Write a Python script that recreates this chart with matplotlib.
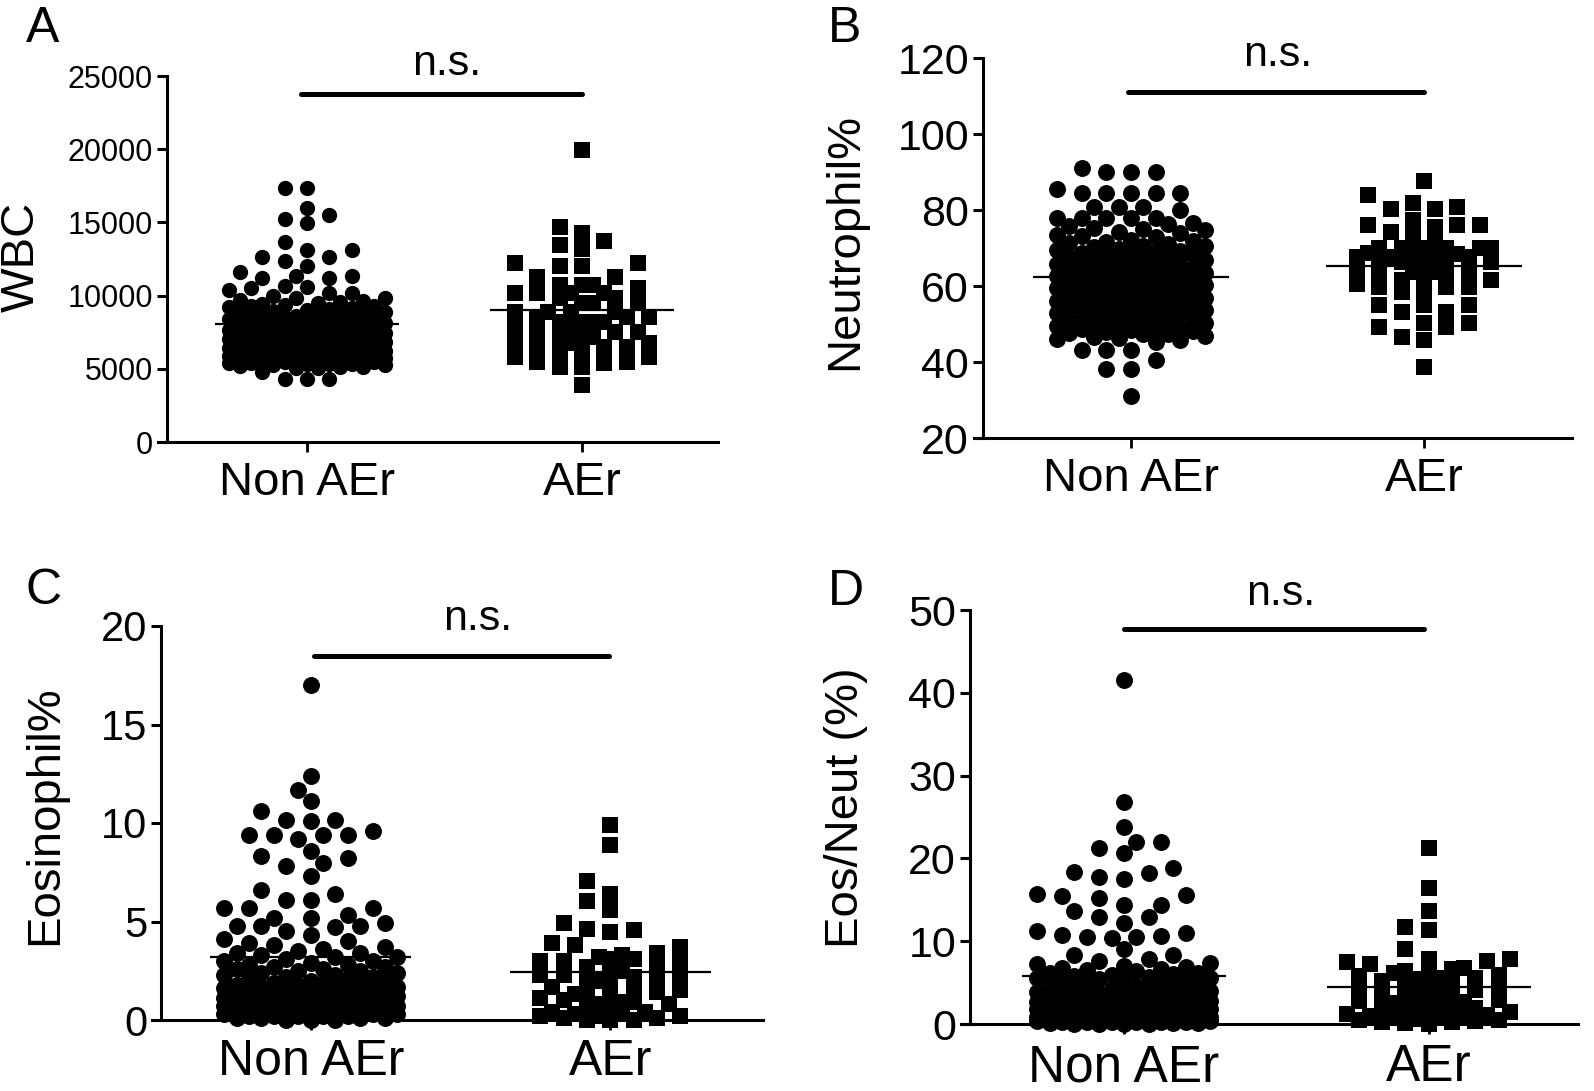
import numpy as np
import matplotlib.pyplot as plt

plt.rcParams['font.family'] = ['Liberation Sans', 'DejaVu Sans']

W, H, DPI = 1594, 1091, 100
groups = ['Non AEr', 'AEr']

# ---- A: WBC ----
wbc_non = [17330, 17330, 15960, 15500, 15210, 14940, 13680, 13110, 13110, 12610,
           12610, 12380, 12020, 11630, 11340, 11340, 11180, 11180, 10660, 10600,
           10500, 10380, 10160, 10160,
           5050, 5080, 5100, 5150, 5200, 5240, 5260, 5300, 5310, 5360, 5400, 5430, 5450, 5490,
           5520, 5550, 5590, 5620, 5640, 5680, 5720, 5760, 5780, 5810, 5850, 5890, 5930, 5960,
           6010, 6050, 6080, 6110, 6150, 6190, 6220, 6240, 6280, 6330, 6360, 6390, 6430, 6480,
           6520, 6560, 6590, 6640, 6690, 6720, 6760, 6800, 6840, 6890, 6940, 6970,
           7020, 7060, 7110, 7140, 7170, 7220, 7260, 7310, 7340, 7390, 7440, 7470,
           7510, 7560, 7610, 7640, 7680, 7710, 7760, 7800, 7850, 7880, 7930, 7980,
           8030, 8090, 8120, 8160, 8220, 8280, 8310, 8370, 8420, 8480,
           8530, 8590, 8630, 8690, 8750, 8800, 8840, 8910, 8960,
           9020, 9090, 9140, 9210, 9280, 9320, 9390, 9460,
           9510, 9590, 9650, 9720, 9810, 9870, 9950,
           4800, 4280, 4280, 4280]
wbc_aer = [19950, 14710, 14300, 13750, 13460, 13160, 12200, 12200, 12020, 12020,
           11290, 11290, 10720, 10720, 10720, 10500, 10160, 10160, 10160, 10160,
           9810, 9810, 9470, 9470, 9470, 8900, 8900, 8900, 8900, 8560, 8560, 8560,
           8220, 8220, 8220, 8220, 7880, 7880, 7530, 7530, 7530, 7190, 7190, 7190,
           6740, 6740, 6740, 6510, 6510, 6510, 6170, 6170, 5830, 5830, 5490, 5490,
           5380, 5100, 5100, 3890]

# ---- B: Neutrophil% ----
neut_non = [91.0, 90.1, 90.1, 90.1, 85.5, 84.4, 84.4, 84.4, 84.4, 84.4, 80.9, 80.9,
            80.9, 80.0, 77.8, 77.8, 77.8, 77.8, 77.8,
            45.2, 45.7, 46.0, 46.4, 46.7, 46.9, 47.3, 47.5, 47.6, 47.9,
            48.1, 48.4, 48.6, 48.8, 49.2, 49.5, 49.7, 49.9, 50.2, 50.4, 50.7, 50.9,
            51.1, 51.5, 51.9, 52.1, 52.3, 52.8, 53.0, 53.1, 53.5, 53.7, 53.9,
            54.2, 54.4, 54.5, 54.9, 55.3, 55.4, 55.8, 56.0, 56.1, 56.5, 56.8, 56.9,
            57.2, 57.3, 57.6, 58.0, 58.2, 58.3, 58.7, 59.1, 59.2, 59.4, 59.7, 59.9,
            60.2, 60.3, 60.6, 61.0, 61.1, 61.5, 61.7, 61.9, 62.3, 62.5, 62.6, 62.9,
            63.2, 63.3, 63.7, 63.9, 64.1, 64.5, 64.7, 64.9, 65.3, 65.4, 65.8, 65.9,
            66.1, 66.6, 66.8, 67.0, 67.5, 67.7, 67.9, 68.3, 68.4, 68.8, 68.9,
            69.3, 69.5, 69.7, 70.2, 70.4, 70.6, 71.1, 71.2, 71.7, 71.9,
            72.2, 72.8, 73.1, 73.4, 73.9, 74.2, 74.7, 74.9,
            75.2, 75.9, 76.3, 76.7,
            43.2, 43.2, 43.2, 40.5, 38.2, 38.2, 31.1]
neut_aer = [87.7, 83.9, 81.8, 80.7, 80.2, 80.2, 77.4, 76.1, 76.1, 76.1, 75.6, 74.3,
            74.3, 71.7, 70.3, 69.9, 69.9, 69.9, 69.9, 69.9, 69.9, 68.8, 68.5, 67.7,
            67.7, 67.7, 67.7, 67.7, 67.4, 66.4, 66.4, 66.4, 66.4, 63.8, 63.8, 63.8,
            63.8, 63.8, 63.4, 62.0, 61.6, 61.6, 60.4, 59.8, 59.8, 59.8, 58.9, 58.5,
            55.0, 55.0, 55.0, 53.2, 53.2, 50.2, 50.2, 49.3, 49.3, 46.7, 45.8, 38.8]

# ---- C: Eosinophil% ----
eos_non = [17.0, 12.4, 11.7, 11.1, 10.6, 10.15, 10.15, 10.1, 9.6, 9.4, 9.4, 9.4,
           9.4, 9.2, 8.6, 8.3, 8.2, 7.95, 7.8, 7.3, 6.6, 6.4, 6.1, 6.1, 5.67, 5.67,
           5.67, 5.33, 5.16, 5.16, 4.9, 4.77, 4.77, 4.77, 4.7,
           0.0, 0.0, 0.0, 0.1, 0.1, 0.1, 0.1, 0.2, 0.2, 0.2, 0.2, 0.2, 0.3, 0.3,
           0.3, 0.3, 0.3, 0.4, 0.4, 0.4, 0.4, 0.5, 0.5, 0.5, 0.5,
           0.6, 0.6, 0.6, 0.7, 0.7, 0.7, 0.7, 0.8, 0.8, 0.8, 0.8, 0.9, 0.9, 0.9,
           0.9, 1.0, 1.0, 1.0,
           1.1, 1.1, 1.1, 1.2, 1.2, 1.2, 1.3, 1.3, 1.3, 1.4, 1.4, 1.4, 1.5, 1.5, 1.5,
           1.6, 1.6, 1.6, 1.7, 1.7, 1.7, 1.8, 1.8, 1.8, 1.9, 1.9, 2.0, 2.0,
           2.1, 2.1, 2.2, 2.2, 2.3, 2.3, 2.4, 2.4, 2.5, 2.5,
           2.6, 2.6, 2.7, 2.7, 2.8, 2.8, 2.9, 3.0, 3.0,
           3.1, 3.2, 3.2, 3.3, 3.4, 3.4, 3.5,
           3.6, 3.7, 3.8, 3.9, 4.0, 4.1, 4.3, 4.5]
eos_aer = [9.9, 8.9, 7.05, 6.4, 6.05, 5.6, 4.9, 4.55, 4.6, 4.45,
           0.0, 0.0, 0.0, 0.1, 0.1, 0.2, 0.2, 0.2, 0.3, 0.3, 0.4, 0.4,
           0.6, 0.7, 0.8, 0.8, 0.9, 0.9, 1.0,
           1.1, 1.2, 1.3, 1.3, 1.4, 1.5,
           1.6, 1.7, 1.8, 1.9, 2.0, 2.0,
           2.1, 2.2, 2.3, 2.3, 2.4, 2.5,
           2.7, 2.8, 2.9, 3.0, 3.0,
           3.1, 3.1, 3.2, 3.3, 3.4,
           3.7, 3.8, 3.9]

# ---- D: Eos/Neut (%) ----
ratio_non = [41.5, 26.8, 23.8, 22.0, 22.0, 21.3, 20.6, 18.8, 18.3, 18.2, 17.7, 17.5,
             15.7, 15.6, 15.4, 15.2, 14.4, 14.4, 13.7, 12.9, 12.9, 12.2, 11.2, 11.0,
             10.8, 10.6, 10.5, 10.5, 10.35, 9.0, 8.3, 8.3,
             0.0, 0.0, 0.0, 0.0, 0.1, 0.1, 0.1, 0.2, 0.2, 0.2, 0.3, 0.3, 0.3,
             0.4, 0.4, 0.4, 0.5, 0.5, 0.5, 0.6, 0.6, 0.6, 0.7, 0.7, 0.7,
             0.8, 0.8, 0.8, 0.9, 0.9, 0.9, 0.9,
             1.0, 1.1, 1.1, 1.2, 1.3, 1.3, 1.4, 1.5, 1.5, 1.6, 1.6, 1.7, 1.7, 1.8,
             1.8, 1.9, 1.9, 2.0,
             2.1, 2.1, 2.2, 2.3, 2.3, 2.4, 2.5, 2.5, 2.6, 2.7, 2.7, 2.8, 2.9, 3.0,
             3.1, 3.1, 3.2, 3.3, 3.4, 3.4, 3.5, 3.6, 3.6, 3.7, 3.8, 3.9, 4.0,
             4.1, 4.2, 4.2, 4.4, 4.5, 4.6, 4.6, 4.8, 4.9, 5.0,
             5.1, 5.2, 5.4, 5.5, 5.6, 5.7, 5.8, 5.9, 6.0,
             6.1, 6.2, 6.4, 6.5, 6.6, 6.8, 6.9, 7.0,
             7.2, 7.4, 7.6, 7.9]
ratio_aer = [21.2, 16.4, 13.6, 11.7, 11.3, 9.1,
             0.0, 0.1, 0.2, 0.3, 0.4, 0.5, 0.5, 0.6, 0.7, 0.8, 0.9, 1.0,
             1.1, 1.2, 1.4, 1.5, 1.6, 1.7, 1.8, 1.9,
             2.1, 2.3, 2.5, 2.6, 2.8, 2.9,
             3.1, 3.3, 3.4, 3.6, 3.7, 3.9,
             4.1, 4.3, 4.4, 4.6, 4.8, 4.9,
             5.2, 5.4, 5.5, 5.6, 5.8, 5.9,
             6.1, 6.2, 6.4, 6.6, 6.8,
             7.3, 7.5, 7.6, 7.8, 7.9]


def swarm_x(values, d, px_x, px_y, half_width, square=False):
    # Prism-like column scatter: each point (low to high) goes to the slot nearest
    # the centre where it does not hit an earlier point; if none is free, the least crowded one
    vals = np.asarray(values, float)
    step = 0.73 * d
    nslot = int(half_width * px_x / step)
    slots = [0]
    for k in range(1, nslot + 1):
        slots += [-k * step, k * step]
    slots = np.array(slots)
    order = np.argsort(vals, kind='stable')
    px_pos, py_pos = [], []
    xs = np.zeros(len(vals))
    for i in order:
        y = vals[i] * px_y
        if px_pos:
            ddx = np.abs(slots[:, None] - np.array(px_pos)[None, :])
            ddy = np.abs(y - np.array(py_pos))[None, :]
            if square:
                dist = np.maximum(ddx, ddy).min(axis=1)
            else:
                dist = np.hypot(ddx, ddy).min(axis=1)
            free = np.where(dist >= 0.97 * d)[0]
            j = free[0] if len(free) else int(np.argmax(dist))
        else:
            j = 0
        px_pos.append(slots[j])
        py_pos.append(y)
        xs[i] = slots[j] / px_x
    return xs


fig = plt.figure(figsize=(W / DPI, H / DPI), dpi=DPI)


def panel(box, xlim, ylim, yticks, non, aer, ylabel, letter, p):
    left, top, right, bottom = box
    ax = fig.add_axes([left / W, 1 - bottom / H, (right - left) / W, (bottom - top) / H])
    ax.set_xlim(xlim)
    ax.set_ylim(ylim)
    px_x = (right - left) / (xlim[1] - xlim[0])
    px_y = (bottom - top) / (ylim[1] - ylim[0])

    for i, (vals, mk, size, hw) in enumerate([(non, 'o', p['dot'], p['hw'][0]),
                                                (aer, 's', p['sq'], p['hw'][1])]):
        d_px = size * DPI / 72
        xs = i + swarm_x(vals, d_px, px_x, px_y, hw, square=(mk == 's'))
        ax.scatter(xs, vals, s=size ** 2, marker=mk, color='black', linewidths=0,
                   zorder=3, clip_on=False)
        m = np.mean(vals)
        ax.hlines(m, i - 0.335, i + 0.335, color='black', lw=1.6, zorder=4)

    # significance bar
    ax.plot(p['bar_x'], [p['bar_y'], p['bar_y']], color='black', lw=3.6,
            solid_capstyle='round', clip_on=False)
    ax.text(p['ns_x'], p['ns_y'], 'n.s.', ha='center', va='baseline',
            fontsize=31)

    for s in ['top', 'right']:
        ax.spines[s].set_visible(False)
    for s in ['left', 'bottom']:
        ax.spines[s].set_linewidth(2.2)
    ax.spines['bottom'].set_bounds(xlim[0] - 9 / px_x, xlim[1])
    ax.set_yticks(yticks)
    ax.set_yticklabels([str(t) for t in yticks])
    ax.tick_params(axis='y', length=7, width=2.2, labelsize=p['tick_fs'], pad=3)
    ax.set_xticks([0, 1])
    ax.set_xticklabels(groups)
    ax.tick_params(axis='x', length=7, width=2.0, labelsize=p['cat_fs'], pad=7)

    lx, ly = p['letter_xy']
    fig.text(lx / W, 1 - ly / H, letter, fontsize=36, ha='left', va='baseline')
    yx, yy = p['ylab_xy']
    fig.text(yx / W, 1 - yy / H, ylabel, fontsize=34, rotation=90,
             ha='center', va='center')
    return ax


panel((167, 76, 718, 442), (-0.509, 1.495), (0, 25000), [0, 5000, 10000, 15000, 20000, 25000],
      wbc_non, wbc_aer, 'WBC', 'A',
      dict(dot=11, sq=11, hw=(0.30, 0.25), bar_x=[-0.02, 1.0], bar_y=23770,
           ns_x=0.51, ns_y=25070, tick_fs=22, cat_fs=34,
           letter_xy=(26, 42), ylab_xy=(22, 257)))

panel((983, 58, 1572, 438), (-0.505, 1.505), (20, 120), [20, 40, 60, 80, 100, 120],
      neut_non, neut_aer, 'Neutrophil%', 'B',
      dict(dot=12.2, sq=11, hw=(0.29, 0.25), bar_x=[-0.01, 1.0], bar_y=111,
           ns_x=0.50, ns_y=118, tick_fs=31, cat_fs=34,
           letter_xy=(828, 42), ylab_xy=(845, 242)))

panel((161, 626, 763, 1020), (-0.5, 1.51), (0, 20), [0, 5, 10, 15, 20],
      eos_non, eos_aer, 'Eosinophil%', 'C',
      dict(dot=12.2, sq=11.5, hw=(0.30, 0.27), bar_x=[0.01, 0.997], bar_y=18.5,
           ns_x=0.557, ns_y=19.8, tick_fs=30, cat_fs=36,
           letter_xy=(26, 604), ylab_xy=(45, 815)))

panel((970, 610, 1578, 1024), (-0.505, 1.49), (0, 50), [0, 10, 20, 30, 40, 50],
      ratio_non, ratio_aer, 'Eos/Neut (%)', 'D',
      dict(dot=12.2, sq=11.5, hw=(0.30, 0.27), bar_x=[0.0, 0.985], bar_y=47.7,
           ns_x=0.515, ns_y=50.6, tick_fs=31, cat_fs=37,
           letter_xy=(828, 605), ylab_xy=(846, 808)))

fig.savefig('out.png', dpi=DPI, facecolor='white')
